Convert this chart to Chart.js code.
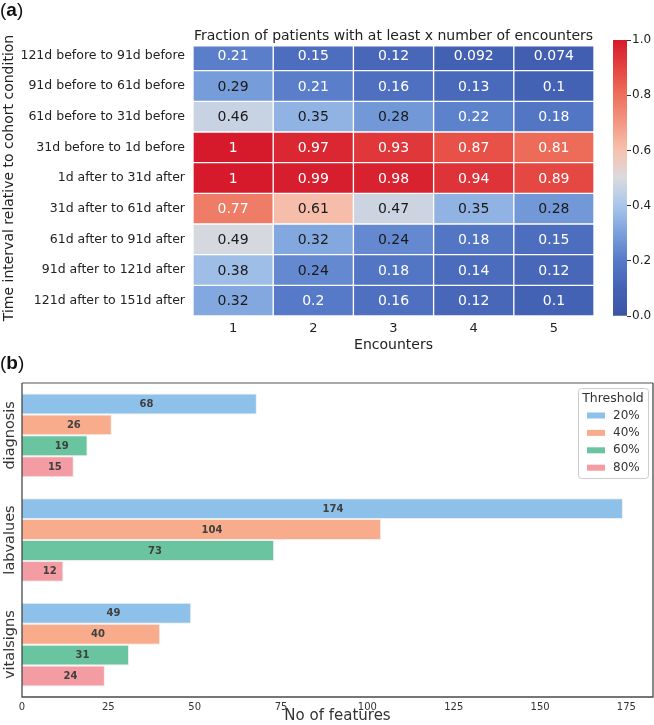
<!DOCTYPE html>
<html><head><meta charset="utf-8">
<script src="https://cdn.jsdelivr.net/npm/chart.js@4.4.0/dist/chart.umd.min.js"></script>
<style>
html,body{margin:0;padding:0;background:#fff;}
#wrap{position:relative;width:654px;height:725px;overflow:hidden;background:#fff;}
canvas{position:absolute;}
.panel{position:absolute;left:0;font-family:'Liberation Sans',Arial,sans-serif;font-size:19px;color:#111;z-index:2;line-height:20px;}
</style></head><body>
<div id="wrap">
<canvas id="heat" width="600" height="360" style="left:0;top:0;width:600px;height:360px"></canvas>
<canvas id="cbar" width="54" height="360" style="left:600px;top:0;width:54px;height:360px"></canvas>
<canvas id="bars" width="654" height="365" style="left:0;top:360px;width:654px;height:365px"></canvas>
<div class="panel" style="top:0">(<b>a</b>)</div>
<div class="panel" style="top:353px">(<b>b</b>)</div>
</div>
<script>
// ---------- Panel (a) data ----------
const intervalLabels = [
  '121d before to 91d before',
  '91d before to 61d before',
  '61d before to 31d before',
  '31d before to 1d before',
  '1d after to 31d after',
  '31d after to 61d after',
  '61d after to 91d after',
  '91d after to 121d after',
  '121d after to 151d after'
];
const encounterLabels = ['1', '2', '3', '4', '5'];
const enc1 = [0.21, 0.29, 0.46, 1, 1, 0.77, 0.49, 0.38, 0.32];
const enc2 = [0.15, 0.21, 0.35, 0.97, 0.99, 0.61, 0.32, 0.24, 0.2];
const enc3 = [0.12, 0.16, 0.28, 0.93, 0.98, 0.47, 0.24, 0.18, 0.16];
const enc4 = [0.092, 0.13, 0.22, 0.87, 0.94, 0.35, 0.18, 0.14, 0.12];
const enc5 = [0.074, 0.1, 0.18, 0.81, 0.89, 0.28, 0.15, 0.12, 0.1];
const colorbarRange = [0, 1];
const colorbarTicks = [0, 0.2, 0.4, 0.6, 0.8, 1.0];

// ---------- Panel (b) data ----------
const featureGroups = ['diagnosis', 'labvalues', 'vitalsigns'];
const thresholdLabels = ['20%', '40%', '60%', '80%'];
const threshold20 = [68, 174, 49];
const threshold40 = [26, 104, 40];
const threshold60 = [19, 73, 31];
const threshold80 = [15, 12, 24];
const featureTicks = [0, 25, 50, 75, 100, 125, 150, 175];

// ---------- styles ----------
const FONT = "'DejaVu Sans', Verdana, sans-serif";
const cmapStops = [
  [0.0, [58, 84, 163]],
  [0.1, [68, 98, 180]],
  [0.2, [86, 122, 200]],
  [0.3, [122, 160, 220]],
  [0.4, [168, 198, 234]],
  [0.5, [219, 218, 222]],
  [0.6, [246, 194, 174]],
  [0.7, [242, 152, 130]],
  [0.8, [237, 112, 92]],
  [0.9, [228, 68, 64]],
  [1.0, [214, 26, 44]]
];
function cmap(v) {
  v = Math.max(0, Math.min(1, v));
  for (let i = 1; i < cmapStops.length; i++) {
    const [p1, c1] = cmapStops[i], [p0, c0] = cmapStops[i - 1];
    if (v <= p1) {
      const t = (v - p0) / (p1 - p0);
      const c = c0.map((a, j) => Math.round(a + (c1[j] - a) * t));
      return `rgb(${c[0]},${c[1]},${c[2]})`;
    }
  }
  return 'rgb(214,26,44)';
}
function textColor(v) { return (v >= 0.235 && v <= 0.7) ? '#1a1a1a' : '#ffffff'; }

const barColors = ['#8ec1e9', '#f9ac8c', '#6bc4a0', '#f39ca3'];

// ---------- Heatmap ----------
const encounterSeries = [enc1, enc2, enc3, enc4, enc5];
const heatPlugin = {
  id: 'heatLabels',
  afterDatasetsDraw(chart) {
    const ctx = chart.ctx;
    ctx.save();
    ctx.font = '14px ' + FONT;
    ctx.textAlign = 'center';
    ctx.textBaseline = 'middle';
    chart.data.datasets.forEach((ds, k) => {
      chart.getDatasetMeta(k).data.forEach((bar, i) => {
        const v = ds.fractions[i];
        const p = bar.getProps(['x', 'y', 'base'], true);
        ctx.fillStyle = textColor(v);
        ctx.fillText(String(v), (p.x + p.base) / 2, p.y + 1);
      });
    });
    ctx.restore();
  },
  afterDraw(chart) {
    const ctx = chart.ctx, a = chart.chartArea;
    const title = 'Fraction of patients with at least x number of encounters';
    ctx.save();
    ctx.font = '14px ' + FONT;
    const w = ctx.measureText(title).width;
    const cx = (a.left + a.right) / 2;
    ctx.fillStyle = '#fff';
    ctx.fillRect(cx - w / 2 - 1, 26, w + 2, 20.5);
    ctx.fillStyle = '#222';
    ctx.textAlign = 'center';
    ctx.textBaseline = 'alphabetic';
    ctx.fillText(title, cx, 40);
    ctx.restore();
  }
};

new Chart(document.getElementById('heat'), {
  type: 'bar',
  data: {
    labels: intervalLabels,
    datasets: encounterSeries.map((vals, k) => ({
      label: 'Encounters ' + encounterLabels[k],
      data: vals.map(() => 1),
      fractions: vals,
      backgroundColor: vals.map(cmap),
      borderColor: '#ffffff',
      borderWidth: 1,
      borderSkipped: false,
      barPercentage: 1,
      categoryPercentage: 1
    }))
  },
  options: {
    indexAxis: 'y',
    responsive: false,
    animation: false,
    devicePixelRatio: 1,
    layout: { padding: { top: 40, right: 6, left: 0, bottom: 0 } },
    plugins: { legend: { display: false }, tooltip: { enabled: false } },
    scales: {
      x: {
        type: 'linear', stacked: true, min: 0, max: encounterLabels.length,
        grid: { display: false, drawTicks: false }, border: { display: false },
        afterBuildTicks: (axis) => { axis.ticks = encounterLabels.map((l, i) => ({ value: i + 0.5 })); },
        afterFit: (s) => { s.height = 44; },
        ticks: { font: { family: FONT, size: 13 }, color: '#222', padding: 5, maxRotation: 0,
          callback: (v, i) => encounterLabels[i] },
        title: { display: true, text: 'Encounters', font: { family: FONT, size: 14 }, color: '#222', padding: { top: 0, bottom: 6 } }
      },
      y: {
        stacked: true,
        grid: { display: false, drawTicks: false }, border: { display: false },
        afterFit: (s) => { s.width = 193; },
        ticks: { font: { family: FONT, size: 12.5 }, color: '#222', padding: 8 },
        title: { display: true, text: 'Time interval relative to cohort condition', font: { family: FONT, size: 14 }, color: '#222', padding: { top: 1, bottom: 0 } }
      }
    }
  },
  plugins: [heatPlugin]
});

// ---------- Colorbar ----------
new Chart(document.getElementById('cbar'), {
  type: 'bar',
  data: {
    labels: ['Fraction'],
    datasets: [{
      data: [colorbarRange],
      backgroundColor: (c) => {
        const a = c.chart.chartArea;
        if (!a) return cmap(0.5);
        const g = c.chart.ctx.createLinearGradient(0, a.bottom, 0, a.top);
        for (let i = 0; i <= 40; i++) g.addColorStop(i / 40, cmap(i / 40));
        return g;
      },
      borderWidth: 0,
      barPercentage: 1,
      categoryPercentage: 1
    }]
  },
  options: {
    responsive: false,
    animation: false,
    devicePixelRatio: 1,
    layout: { padding: { top: 40, bottom: 44, left: 13, right: 0 } },
    plugins: { legend: { display: false }, tooltip: { enabled: false } },
    scales: {
      x: { display: false },
      y: {
        position: 'right', min: colorbarRange[0], max: colorbarRange[1],
        afterBuildTicks: (axis) => { axis.ticks = colorbarTicks.map(v => ({ value: v })); },
        afterFit: (s) => { s.width = 27; },
        grid: { drawOnChartArea: false, drawTicks: true, tickLength: 4, color: '#333', lineWidth: 1 },
        border: { display: false },
        ticks: { font: { family: FONT, size: 12 }, color: '#222', padding: 1, callback: (v) => Number(v).toFixed(1) }
      }
    }
  }
});

// ---------- Panel (b) ----------
const thresholdSeries = [threshold20, threshold40, threshold60, threshold80];
const barsPlugin = {
  id: 'barsDecor',
  afterDatasetsDraw(chart) {
    const ctx = chart.ctx;
    ctx.save();
    ctx.font = 'bold 10px ' + FONT;
    ctx.textAlign = 'left';
    ctx.textBaseline = 'middle';
    ctx.fillStyle = '#404040';
    chart.data.datasets.forEach((ds, k) => {
      chart.getDatasetMeta(k).data.forEach((bar, i) => {
        const p = bar.getProps(['x', 'y', 'base'], true);
        ctx.fillText(String(ds.data[i]), (p.x + p.base) / 2, p.y + 0.5);
      });
    });
    ctx.restore();
  },
  afterDraw(chart) {
    const ctx = chart.ctx, a = chart.chartArea;
    ctx.save();
    // frame
    ctx.lineWidth = 1.3;
    ctx.strokeStyle = '#8c8c8c';
    ctx.beginPath(); ctx.moveTo(a.left, a.top); ctx.lineTo(a.right, a.top); ctx.stroke();
    ctx.strokeStyle = '#4a4a4a';
    ctx.beginPath();
    ctx.moveTo(a.left, a.top); ctx.lineTo(a.left, a.bottom); ctx.lineTo(a.right, a.bottom); ctx.lineTo(a.right, a.top);
    ctx.stroke();
    // category labels (rotated)
    const ys = chart.scales.y;
    ctx.font = '14.5px ' + FONT;
    ctx.fillStyle = '#333';
    ctx.textAlign = 'center';
    ctx.textBaseline = 'middle';
    chart.data.labels.forEach((lab, i) => {
      const y = ys.getPixelForTick(i);
      ctx.save();
      ctx.translate(10, y);
      ctx.rotate(-Math.PI / 2);
      ctx.fillText(lab, 0, 0);
      ctx.restore();
    });
    // legend
    const bx = a.right - 75, by = a.top + 5, bw = 70, bh = 90;
    ctx.fillStyle = 'rgba(255,255,255,0.9)';
    ctx.strokeStyle = '#cccccc';
    ctx.lineWidth = 1;
    ctx.beginPath();
    if (ctx.roundRect) ctx.roundRect(bx + 0.5, by + 0.5, bw, bh, 3); else ctx.rect(bx + 0.5, by + 0.5, bw, bh);
    ctx.fill(); ctx.stroke();
    ctx.fillStyle = '#333';
    ctx.font = '12.5px ' + FONT;
    ctx.textAlign = 'center';
    ctx.fillText('Threshold', bx + 35, by + 11);
    ctx.font = '12px ' + FONT;
    ctx.textAlign = 'left';
    chart.data.datasets.forEach((ds, k) => {
      const yy = by + 27.5 + k * 17.4;
      ctx.fillStyle = ds.backgroundColor;
      ctx.fillRect(bx + 9, yy - 3, 18, 6);
      ctx.fillStyle = '#333';
      ctx.fillText(ds.label, bx + 35, yy);
    });
    ctx.restore();
  }
};

new Chart(document.getElementById('bars'), {
  type: 'bar',
  data: {
    labels: featureGroups,
    datasets: thresholdSeries.map((vals, k) => ({
      label: thresholdLabels[k],
      data: vals,
      backgroundColor: barColors[k],
      borderColor: 'rgba(235,235,235,0.9)',
      borderWidth: 1,
      barPercentage: 1,
      categoryPercentage: 0.8
    }))
  },
  options: {
    indexAxis: 'y',
    responsive: false,
    animation: false,
    devicePixelRatio: 1,
    layout: { padding: { top: 23, right: 1, left: 0, bottom: 0 } },
    plugins: { legend: { display: false }, tooltip: { enabled: false } },
    scales: {
      x: {
        type: 'linear', min: 0, max: 182.7,
        afterBuildTicks: (axis) => { axis.ticks = featureTicks.map(v => ({ value: v })); },
        afterFit: (s) => { s.height = 28; },
        grid: { display: false, drawTicks: false }, border: { display: false },
        ticks: { font: { family: FONT, size: 10 }, color: '#333', padding: 4, maxRotation: 0 },
        title: { display: true, text: 'No of features', font: { family: FONT, size: 15 }, color: '#333', padding: { top: 0, bottom: 0 } }
      },
      y: {
        grid: { display: false, drawTicks: false }, border: { display: false },
        afterFit: (s) => { s.width = 22; },
        ticks: { display: false }
      }
    }
  },
  plugins: [barsPlugin]
});
</script>
</body></html>
